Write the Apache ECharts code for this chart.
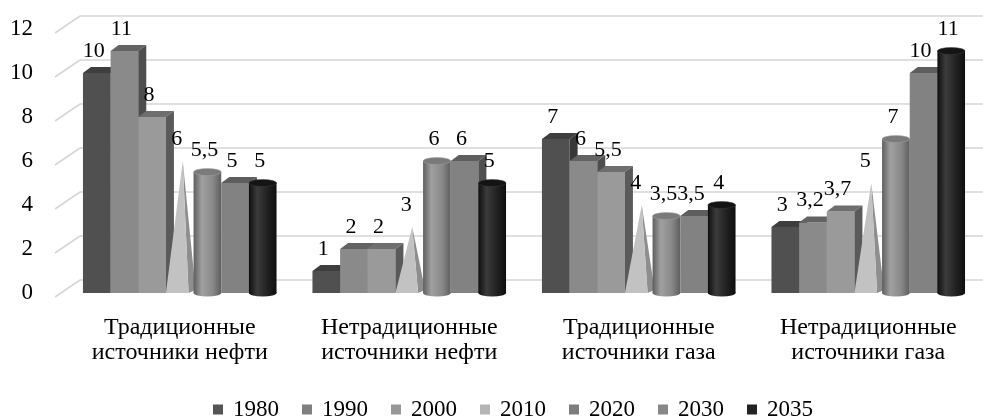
<!DOCTYPE html>
<html>
<head>
<meta charset="utf-8">
<script src="https://cdn.jsdelivr.net/npm/echarts@6/dist/echarts.min.js"></script>
<style>
html,body{margin:0;padding:0;background:#fff;}
#chart{width:983px;height:419px;}
</style>
</head>
<body>
<div id="chart"></div>
<script>
const categories = ['Традиционные\nисточники нефти', 'Нетрадиционные\nисточники нефти', 'Традиционные\nисточники газа', 'Нетрадиционные\nисточники газа'];
const years = ['1980', '1990', '2000', '2010', '2020', '2030', '2035'];
const v1980 = [10, 1, 7, 3];
const v1990 = [11, 2, 6, 3.2];
const v2000 = [8, 2, 5.5, 3.7];
const v2010 = [6, 3, 4, 5];
const v2020 = [5.5, 6, 3.5, 7];
const v2030 = [5, 6, 3.5, 10];
const v2035 = [5, 5, 4, 11];
const yTicks = [0, 2, 4, 6, 8, 10, 12];

const seriesValues = [v1980, v1990, v2000, v2010, v2020, v2030, v2035];
const shapes = ['box', 'box', 'box', 'cone', 'cyl', 'box', 'cyl'];
const styles = [
  {front: '#505050', top: '#3e3e3e', side: '#383838', legend: '#555555'},
  {front: '#8a8a8a', top: '#636363', side: '#4e4e4e', legend: '#808080'},
  {front: '#9a9a9a', top: '#6e6e6e', side: '#5a5a5a', legend: '#979797'},
  {front: '#c2c2c2', top: '#c2c2c2', side: '#8e8e8e', legend: '#b5b5b5'},
  {front: '#888888', edge: '#5e5e5e', hi: '#a0a0a0', top: '#7a7a7a', legend: '#7d7d7d'},
  {front: '#828282', top: '#5e5e5e', side: '#505050', legend: '#888888'},
  {front: '#1f1f1f', edge: '#0e0e0e', hi: '#3c3c3c', top: '#141414', legend: '#222222'}
];
const FONT = '"Liberation Serif", "Times New Roman", serif';

function fmt(v) { return String(v).replace('.', ','); }

function makeRender(s) {
  return function (params, api) {
    const cat = api.value(0), val = api.value(1);
    const top = api.coord([cat, val]);
    const base = api.coord([cat, 0]);
    const catW = api.size([1, 0])[0];
    const bw = catW * 0.1205;
    const xc = top[0] + (s - 3) * bw;
    const x0 = xc - bw / 2, x1 = xc + bw / 2;
    const yT = top[1], yB = base[1];
    const st = styles[s];
    const dx = 8, dy = 6;
    const ch = [];
    if (shapes[s] === 'box') {
      ch.push({type: 'rect', shape: {x: x0, y: yT, width: bw, height: yB - yT}, style: {fill: st.front}});
      ch.push({type: 'polygon', shape: {points: [[x0, yT], [x0 + dx, yT - dy], [x1 + dx, yT - dy], [x1, yT]]}, style: {fill: st.top}});
      ch.push({type: 'polygon', shape: {points: [[x1, yT], [x1 + dx, yT - dy], [x1 + dx, yB - dy], [x1, yB]]}, style: {fill: st.side}});
    } else if (shapes[s] === 'cone') {
      const ax = xc + 3;
      ch.push({type: 'polygon', shape: {points: [[x1 - 5, yB], [x1 + 2, yB - 3], [ax, yT]]}, style: {fill: st.side}});
      ch.push({type: 'polygon', shape: {points: [[x0, yB], [x1 - 5, yB], [ax, yT]]}, style: {fill: st.front}});
    } else {
      const rx = bw / 2, ry = 3.5;
      const grad = new echarts.graphic.LinearGradient(0, 0, 1, 0, [
        {offset: 0, color: st.edge}, {offset: 0.3, color: st.hi}, {offset: 0.7, color: st.front}, {offset: 1, color: st.edge}
      ]);
      ch.push({type: 'circle', x: xc, y: yB, scaleY: ry / rx, shape: {cx: 0, cy: 0, r: rx}, style: {fill: grad}});
      ch.push({type: 'rect', shape: {x: x0, y: yT, width: bw, height: yB - yT}, style: {fill: grad}});
      ch.push({type: 'circle', x: xc, y: yT, scaleY: ry / rx, shape: {cx: 0, cy: 0, r: rx}, style: {fill: st.top, stroke: st.hi, lineWidth: 0.8}});
    }
    ch.push({type: 'text', style: {text: fmt(val), x: xc - 3, y: yT - 22, align: 'center', verticalAlign: 'middle', fontSize: 22, fontFamily: FONT, fill: '#000'}});
    return {type: 'group', children: ch};
  };
}

const series = [{
  type: 'custom',
  name: 'walls',
  silent: true,
  z: 0,
  clip: false,
  data: yTicks.map(function (v) { return [0, v]; }),
  renderItem: function (params, api) {
    const y = api.coord([0, api.value(1)])[1];
    const cs = params.coordSys;
    return {type: 'polyline', shape: {points: [[cs.x - 10, y + 4], [cs.x + 15, y - 13], [cs.x + cs.width, y - 13]]}, style: {stroke: '#d6d6d6', lineWidth: 1.6, fill: null}};
  }
}];
years.forEach(function (yr, s) {
  series.push({
    type: 'custom',
    name: yr,
    z: 2,
    clip: false,
    itemStyle: {color: styles[s].legend},
    data: seriesValues[s].map(function (v, i) { return [i, v]; }),
    renderItem: makeRender(s)
  });
});

const chart = echarts.init(document.getElementById('chart'));
chart.setOption({
  animation: false,
  backgroundColor: '#fff',
  grid: {left: 65, right: 0, top: 29, bottom: 126, containLabel: false},
  legend: {
    data: years,
    left: 213,
    top: 398,
    padding: 0,
    icon: 'rect',
    itemWidth: 10,
    itemHeight: 10,
    itemGap: 23,
    textStyle: {fontSize: 23, fontFamily: FONT, color: '#000', padding: [0, 0, 0, 5]}
  },
  xAxis: {
    type: 'category',
    data: categories,
    axisLine: {show: false},
    axisTick: {show: false},
    splitLine: {show: false},
    axisLabel: {interval: 0, fontSize: 24, lineHeight: 25, fontFamily: FONT, color: '#000', margin: 22}
  },
  yAxis: {
    type: 'value',
    min: 0,
    max: 12,
    interval: 2,
    axisLine: {show: false},
    axisTick: {show: false},
    splitLine: {show: false},
    axisLabel: {fontSize: 23, fontFamily: FONT, color: '#000', margin: 32, padding: [6, 0, 0, 0]}
  },
  series: series
});
</script>
</body>
</html>
